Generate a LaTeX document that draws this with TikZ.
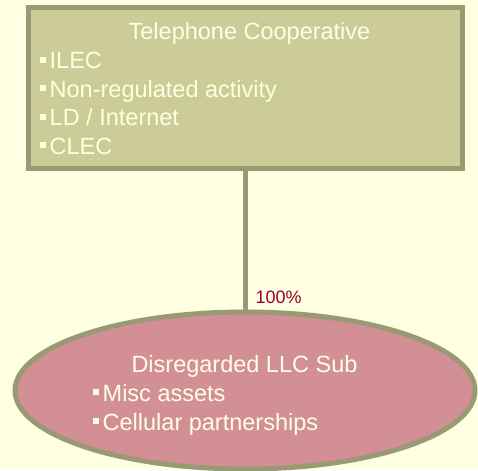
\documentclass[tikz,border=0pt]{standalone}
\usepackage{fontspec}
\setmainfont{Liberation Sans}
\usetikzlibrary{shapes.geometric,backgrounds}
\definecolor{paper}{RGB}{255,255,225}
\definecolor{olivefill}{RGB}{204,204,153}
\definecolor{oliveedge}{RGB}{153,153,115}
\definecolor{rosefill}{RGB}{210,144,150}
\definecolor{creamtext}{RGB}{255,255,225}
\definecolor{wine}{RGB}{153,0,51}
% small square bullet placed before list items
\newcommand{\sqbul}{\raisebox{6pt}{\rule{6pt}{6pt}}\hspace{3.5pt}}
\tikzset{
  entity/.style={draw=oliveedge, line width=5pt, inner sep=0pt, outer sep=0pt},
  bigtext/.style={text=creamtext, inner sep=0pt, font=\fontsize{23.5}{28}\selectfont},
  pcttext/.style={text=wine, inner sep=0pt, font=\fontsize{18}{22}\selectfont},
  link/.style={draw=oliveedge, line width=5pt}
}
\begin{document}
\begin{tikzpicture}[x=1pt,y=-1pt]
  \useasboundingbox (0,0) rectangle (478,470);

  % parent company box
  \node[entity, fill=olivefill, rectangle, minimum width=434pt, minimum height=161pt]
    (coop) at (245,88) {};
  % subsidiary ellipse
  \node[entity, fill=rosefill, ellipse, minimum width=460pt, minimum height=157pt]
    (llc) at (245,390.5) {};

  % page colour and ownership link, kept beneath the shapes
  \begin{scope}[on background layer]
    \fill[paper] (0,0) rectangle (478,470);
    \draw[link] (coop.south) -- (llc.north);
  \end{scope}

  % box contents
  \node[bigtext, anchor=base] (coopname) at (249.5,40) {Telephone Cooperative};
  \node[bigtext, anchor=base west] (ilec) at (40,69) {\sqbul ILEC};
  \node[bigtext, anchor=base west] (nonreg) at (40,97.5) {\sqbul Non-regulated activity};
  \node[bigtext, anchor=base west] (ldnet) at (40,126) {\sqbul LD / Internet};
  \node[bigtext, anchor=base west] (clec) at (40,154.5) {\sqbul CLEC};

  % ownership share
  \node[pcttext, anchor=base west] (pct) at (255.5,303) {100\%};

  % ellipse contents
  \node[bigtext, anchor=base] (llcname) at (244.5,372) {Disregarded LLC Sub};
  \node[bigtext, anchor=base west] (misc) at (93,401) {\sqbul Misc assets};
  \node[bigtext, anchor=base west] (cell) at (93,430) {\sqbul Cellular partnerships};
\end{tikzpicture}
\end{document}
